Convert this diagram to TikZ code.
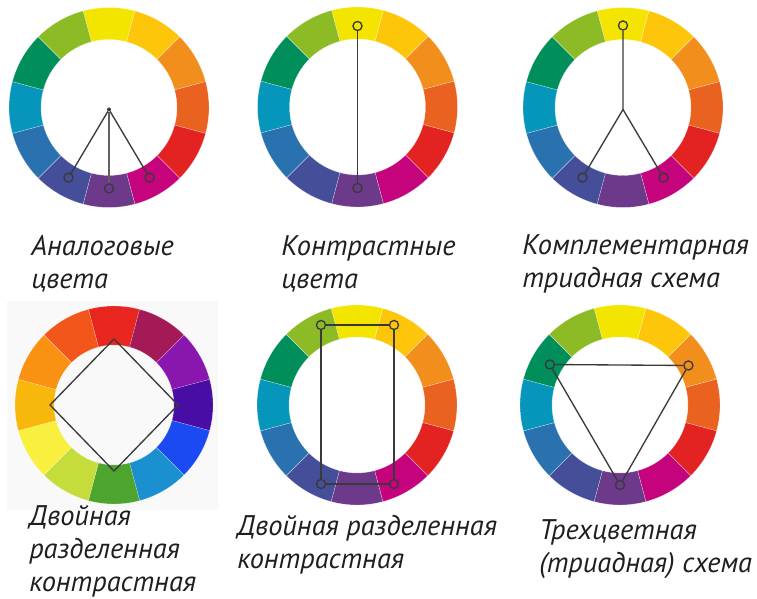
\documentclass[tikz,border=0pt]{standalone}
\usepackage{fontspec}
\setmainfont{PT Sans}
\usetikzlibrary{calc}

% 12-part wheel
\definecolor{cwA}{HTML}{F4E500}
\definecolor{cwB}{HTML}{FDC60B}
\definecolor{cwC}{HTML}{F18E1C}
\definecolor{cwD}{HTML}{EA621F}
\definecolor{cwE}{HTML}{E32322}
\definecolor{cwF}{HTML}{C4037D}
\definecolor{cwG}{HTML}{6D398B}
\definecolor{cwH}{HTML}{444E99}
\definecolor{cwI}{HTML}{2A71B0}
\definecolor{cwJ}{HTML}{0696BB}
\definecolor{cwK}{HTML}{008E5B}
\definecolor{cwL}{HTML}{8CBB26}
% second palette
\definecolor{vwA}{HTML}{E8261F}
\definecolor{vwB}{HTML}{A31A56}
\definecolor{vwC}{HTML}{8916AE}
\definecolor{vwD}{HTML}{480DA4}
\definecolor{vwE}{HTML}{1B4AF3}
\definecolor{vwF}{HTML}{1A90D1}
\definecolor{vwG}{HTML}{4DA42F}
\definecolor{vwH}{HTML}{C5DC3B}
\definecolor{vwI}{HTML}{F8EF3E}
\definecolor{vwJ}{HTML}{F8B70B}
\definecolor{vwK}{HTML}{F99113}
\definecolor{vwL}{HTML}{F2561A}
\definecolor{ink}{HTML}{3A3A3A}

\begin{document}
\begin{tikzpicture}[x=0.75pt, y=0.75pt,
    pick/.style={circle, draw=ink, line width=1pt, minimum size=6.8pt, inner sep=0pt},
    hubdot/.style={circle, fill=ink, minimum size=3pt, inner sep=0pt},
    link/.style={ink, line width=1pt},
    lbl/.style={font=\fontsize{21.3}{24.75}\selectfont\itshape, text=black!88, align=left, inner sep=0pt, anchor=base west}]
  \useasboundingbox (0,0) rectangle (757,599);
  \fill[gray!5] (7,89) rectangle (218,298);

  \coordinate (c1) at (109,491.5);
  \coordinate (c2) at (357.5,492);
  \coordinate (c3) at (623,491.5);
  \coordinate (c4) at (114,194);
  \coordinate (c5) at (357,194);
  \coordinate (c6) at (620,194);

  \foreach \wc in {c1,c2,c3,c5,c6}{
    \foreach \col [count=\i from 0, evaluate=\i as \a using 105-30*\i] in {cwA,cwB,cwC,cwD,cwE,cwF,cwG,cwH,cwI,cwJ,cwK,cwL}
      \filldraw[fill=\col, draw=white, draw opacity=0.5, line width=0.3pt]
        ($(\wc)+(\a:100)$) arc[start angle=\a, end angle=\a-30, radius=100]
        -- ($(\wc)+(\a-30:68)$) arc[start angle=\a-30, end angle=\a, radius=68] -- cycle;
  }

  \foreach \col [count=\i from 0, evaluate=\i as \a using 105-30*\i] in {vwA,vwB,vwC,vwD,vwE,vwF,vwG,vwH,vwI,vwJ,vwK,vwL}
    \filldraw[fill=\col, draw=white, draw opacity=0.4, line width=0.3pt]
      ($(c4)+(\a:99)$) arc[start angle=\a, end angle=\a-30, radius=99]
      -- ($(c4)+(\a-30:60)$) arc[start angle=\a-30, end angle=\a, radius=60] -- cycle;

  % analogous
  \node[hubdot] (h1) at ($(c1)+(0,-2)$) {};
  \node[pick] (a1) at ($(c1)+(-120:81)$) {};
  \node[pick] (a2) at ($(c1)+(-90:81)$) {};
  \node[pick] (a3) at ($(c1)+(-60:81)$) {};
  \draw[link] (h1) -- (a1);
  \draw[link, line width=1.4pt, ink!80] (h1) -- (a2);
  \draw[link] (h1) -- (a3);

  % complementary
  \node[pick] (b1) at ($(c2)+(90:81)$) {};
  \node[pick] (b2) at ($(c2)+(-90:81)$) {};
  \draw[link] (b1) -- (b2);

  % split complementary
  \coordinate (h3) at ($(c3)+(0,-2)$);
  \node[pick] (s1) at ($(c3)+(90:82)$) {};
  \node[pick] (s2) at ($(c3)+(-120:81)$) {};
  \node[pick] (s3) at ($(c3)+(-60:81)$) {};
  \draw[link] (s1) -- (h3) -- (s2);
  \draw[link] (h3) -- (s3);

  % square
  \coordinate (d1) at ($(c4)+(90:66)$);
  \coordinate (d2) at ($(c4)+(0:64)$);
  \coordinate (d3) at ($(c4)+(-90:66)$);
  \coordinate (d4) at ($(c4)+(180:64)$);
  \draw[link] (d1) -- (d2) -- (d3) -- (d4) -- cycle;

  % rectangle
  \node[pick] (e1) at ($(c5)+(-36,80)$) {};
  \node[pick] (e2) at ($(c5)+(37,80)$) {};
  \node[pick] (e3) at ($(c5)+(-36,-79)$) {};
  \node[pick] (e4) at ($(c5)+(37,-79)$) {};
  \draw[link] (e1) -- (e2) -- (e4) -- (e3) -- (e1);

  % triad
  \node[pick] (f1) at ($(c6)+(150:81)$) {};
  \node[pick] (f2) at ($(c6)+(30:79)$) {};
  \node[pick] (f3) at ($(c6)+(-90:80)$) {};
  \draw[link] (f1) -- (f2) -- (f3) -- (f1);

  \node[lbl] (t1) at (31,310) {Аналоговые\\цвета};
  \node[lbl] (t2) at (281,310) {Контрастные\\цвета};
  \node[lbl] (t3) at (522,311) {Комплементарная\\триадная схема};
  \node[lbl] (t4) at (29,7) {Двойная\\разделенная\\контрастная};
  \node[lbl] (t5) at (237,30) {Двойная разделенная\\контрастная};
  \node[lbl] (t6) at (539,26) {Трехцветная\\(триадная) схема};
\end{tikzpicture}
\end{document}
